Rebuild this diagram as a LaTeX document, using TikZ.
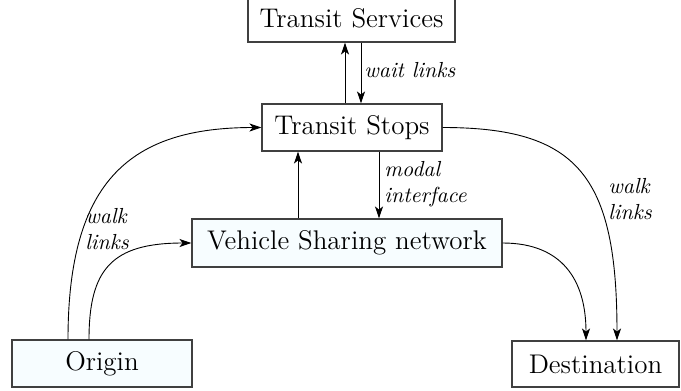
\documentclass[tikz,border=0pt]{standalone}
\usetikzlibrary{arrows.meta}
\begin{document}
\begin{tikzpicture}[x=0.5pt,y=-0.5pt,
  box/.style={draw=black!75, line width=0.55pt, inner sep=0pt, font=\fontsize{13.5}{16}\selectfont},
  cbox/.style={box, fill=cyan!3},
  lbl/.style={font=\fontsize{10.9}{13}\selectfont\itshape, align=left, inner sep=0pt, anchor=west},
  arr/.style={-{Stealth[length=6pt,width=4pt,inset=1.6pt]}, line width=0.45pt}]
\useasboundingbox (0,0) rectangle (681,391);
\node[box, minimum width=103.5pt, minimum height=23.5pt] (serv) at (351.5,18.5) {Transit Services};
\node[box, minimum width=90pt, minimum height=23.5pt] (stops) at (352,127.5) {Transit Stops};
\node[cbox, minimum width=155pt, minimum height=24pt] (veh) at (347,243) {Vehicle Sharing network};
\node[cbox, minimum width=90pt, minimum height=23.5pt] (orig) at (102,363.5) {Origin};
\node[box, minimum width=83.5pt, minimum height=23pt] (dest) at (595.5,364) {Destination};
% vertical links
\draw[arr] (stops.north -| 345,0) -- (serv.south -| 345,0);
\draw[arr] (serv.south -| 361,0) -- (stops.north -| 361,0);
\draw[arr] (veh.north -| 298,0) -- (stops.south -| 298,0);
\draw[arr] (stops.south -| 379,0) -- (veh.north -| 379,0);
% curves
\draw[arr] (orig.north -| 68,0) .. controls +(0,-160) and +(-130,0) .. (stops.west);
\draw[arr] (orig.north -| 89,0) .. controls +(0,-70) and +(-80,0) .. (veh.west);
\draw[arr] (stops.east) .. controls +(135,0) and +(0,-165) .. (dest.north -| 617,0);
\draw[arr] (veh.east) .. controls +(60,0) and +(0,-60) .. (dest.north -| 586,0);
% labels
\node[lbl] (wl) at (364,70) {wait links};
\node[lbl] (mi) at (384,184) {modal\\interface};
\node[lbl] (wk1) at (85,229) {walk\\links};
\node[lbl] (wk2) at (608,199) {walk\\links};
\end{tikzpicture}
\end{document}
